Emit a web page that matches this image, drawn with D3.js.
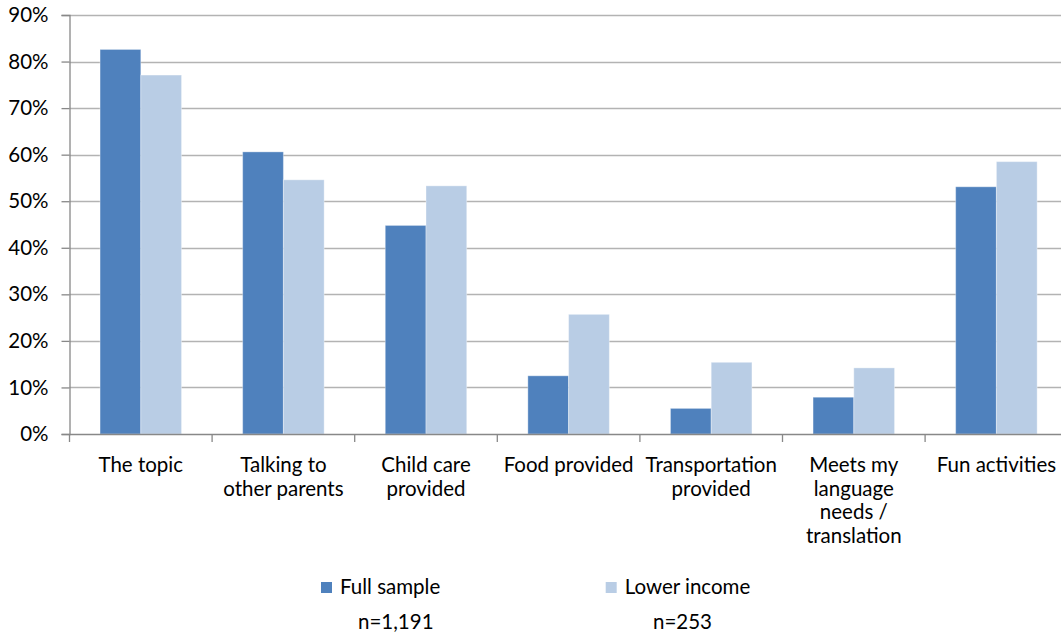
<!DOCTYPE html>
<html>
<head>
<meta charset="utf-8">
<script src="https://cdn.jsdelivr.net/npm/d3@7"></script>
<style>
  body { margin: 0; background: #fff; }
  svg text { font-family: Lato, "Open Sans", sans-serif; fill: #000; }
</style>
</head>
<body>
<svg id="canvas" width="1061" height="635"></svg>
<script>
// categories, each one split into the lines it wraps to
let categories = ['The topic', 'Talking to other parents', 'Child care provided', 'Food provided',
                  'Transportation provided', 'Meets my language needs / translation', 'Fun activities']
let labelLines = [['The topic'], ['Talking to', 'other parents'], ['Child care', 'provided'], ['Food provided'],
                  ['Transportation', 'provided'], ['Meets my', 'language', 'needs /', 'translation'], ['Fun activities']]
let seriesNames = ['Full sample', 'Lower income']
let seriesCounts = ['n=1,191', 'n=253']
let fullSample = [0.826, 0.606, 0.448, 0.125, 0.055, 0.079, 0.531]
let lowerIncome = [0.771, 0.546, 0.533, 0.257, 0.154, 0.142, 0.585]
let yTicks = [0, 0.1, 0.2, 0.3, 0.4, 0.5, 0.6, 0.7, 0.8, 0.9]
let colors = ['#4f81bd', '#b9cde5']

let svg = d3.select('#canvas')
let plotLeft = 69.5, plotTop = 15, plotBottom = 434
let catWidth = 142.6
let fontSize = 20.5

let x = d3.scaleBand()
          .domain(categories)
          .range([plotLeft, plotLeft + catWidth * categories.length])
          .paddingInner(0)
          .paddingOuter(0)

let inner = d3.scaleBand()
              .domain(seriesNames)
              .range([0, x.bandwidth()])
              .paddingOuter(0.75)
              .paddingInner(0)

let y = d3.scaleLinear()
          .domain([0, 0.9])
          .range([plotBottom, plotTop])

// gridlines
svg.append('g')
   .selectAll('line')
   .data(yTicks.slice(1))
   .enter()
   .append('line')
   .attr('x1', plotLeft)
   .attr('x2', 1061)
   .attr('y1', (d) => Math.round(y(d)) + 0.5)
   .attr('y2', (d) => Math.round(y(d)) + 0.5)
   .attr('stroke', '#b3b3b3')
   .attr('stroke-width', 1.3)

// bars
let series = [fullSample, lowerIncome]
series.forEach((values, i) => {
    svg.append('g')
       .selectAll('rect')
       .data(values)
       .enter()
       .append('rect')
       .attr('x', (d, j) => x(categories[j]) + inner(seriesNames[i]))
       .attr('y', (d) => y(d))
       .attr('width', inner.bandwidth())
       .attr('height', (d) => plotBottom - y(d))
       .attr('fill', colors[i])
       .attr('stroke', 'rgba(255,255,255,0.35)')
       .attr('stroke-width', 1)
})

// y axis
let yAxis = d3.axisLeft(y)
              .tickValues(yTicks)
              .tickFormat(d3.format('.0%'))
              .tickSize(8)
              .tickPadding(13)

let yG = svg.append('g')
            .attr('transform', 'translate(' + plotLeft + ',0)')
            .call(yAxis)
yG.select('.domain').attr('stroke', '#888').attr('stroke-width', 1.3)
yG.selectAll('.tick line').attr('stroke', '#888').attr('stroke-width', 1.3)
yG.selectAll('.tick text')
  .attr('font-size', fontSize)
  .attr('fill', '#000')
  .style('font-family', 'Lato, sans-serif')

// x axis line and category ticks
let xG = svg.append('g')
xG.append('line')
  .attr('x1', plotLeft)
  .attr('x2', 1061)
  .attr('y1', plotBottom + 0.5)
  .attr('y2', plotBottom + 0.5)
  .attr('stroke', '#888')
  .attr('stroke-width', 1.3)
xG.selectAll('.ctick')
  .data(categories)
  .enter()
  .append('line')
  .attr('class', 'ctick')
  .attr('x1', (d) => x(d))
  .attr('x2', (d) => x(d))
  .attr('y1', plotBottom)
  .attr('y2', plotBottom + 8)
  .attr('stroke', '#888')
  .attr('stroke-width', 1.3)

// category labels
let labels = svg.append('g')
                .selectAll('text')
                .data(categories)
                .enter()
                .append('text')
                .attr('text-anchor', 'middle')
                .attr('font-size', fontSize)
labels.selectAll('tspan')
      .data((d, i) => labelLines[i].map((t) => ({ t: t, c: d })))
      .enter()
      .append('tspan')
      .attr('x', (d) => x(d.c) + x.bandwidth() / 2)
      .attr('y', (d, k) => 472 + k * 23.5)
      .text((d) => d.t)

// legend
let legendX = [321, 605.7]
let countX = [358, 653]
seriesNames.forEach((name, i) => {
    let g = svg.append('g')
    g.append('rect')
     .attr('x', legendX[i])
     .attr('y', 582)
     .attr('width', 11)
     .attr('height', 11)
     .attr('fill', colors[i])
    g.append('text')
     .attr('x', legendX[i] + 19)
     .attr('y', 594)
     .attr('font-size', fontSize)
     .text(name)
    g.append('text')
     .attr('x', countX[i])
     .attr('y', 629)
     .attr('font-size', fontSize)
     .text(seriesCounts[i])
})
</script>
</body>
</html>
